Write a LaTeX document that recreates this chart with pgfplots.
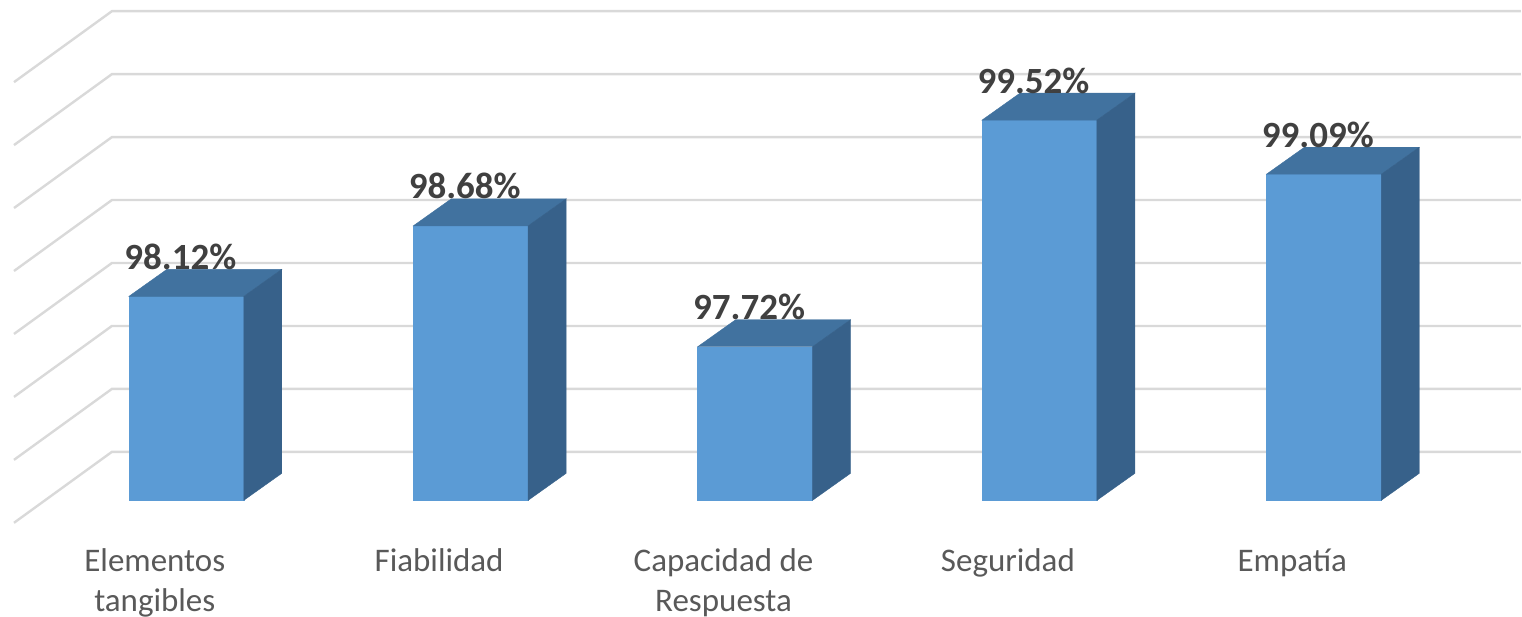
\documentclass[border=0pt]{standalone}
\usepackage{pgfplots}
\pgfplotsset{compat=1.18}
\usepackage{fontspec}
\setmainfont{Carlito}
\definecolor{frontc}{HTML}{5B9BD5}
\definecolor{topc}{HTML}{41729F}
\definecolor{sidec}{HTML}{37618A}
\definecolor{gridc}{HTML}{D9D9D9}
\definecolor{lbl}{HTML}{595959}
\definecolor{dlbl}{HTML}{404040}

% #1 = category position, #2 = value
\newcommand\barthreed[2]{%
  \pgfmathsetmacro\xl{#1-0.2020}%
  \pgfmathsetmacro\xr{#1+0.2020}%
  \pgfmathsetmacro\xrr{#1+0.2020+0.1335}%
  \pgfmathsetmacro\xlr{#1-0.2020+0.1335}%
  \pgfmathsetmacro\vt{#2+0.2143}%
  \pgfmathsetmacro\bt{96.5+0.2143}%
  \addplot[draw=frontc, line width=0.2pt, fill=frontc] coordinates {(\xl,96.5) (\xr,96.5) (\xr,#2) (\xl,#2)} --cycle;
  \addplot[draw=topc, line width=0.2pt, fill=topc] coordinates {(\xl,#2) (\xr,#2) (\xrr,\vt) (\xlr,\vt)} --cycle;
  \addplot[draw=sidec, line width=0.2pt, fill=sidec] coordinates {(\xr,96.5) (\xrr,\bt) (\xrr,\vt) (\xr,#2)} --cycle;
  \node[anchor=base, xshift=-3pt, yshift=13.5pt, text=dlbl, font=\fontsize{18.5}{20}\selectfont\bfseries] at (axis cs:#1,#2) {#2\%};
}

\begin{document}
\begin{tikzpicture}
\begin{axis}[
  scale only axis,
  width=761pt, height=308pt,
  xmin=-0.6553, xmax=4.6926,
  ymin=95.5833, ymax=100.4722,
  clip=false,
  axis line style={draw=none},
  major tick length=0pt,
  ytick=\empty,
  xtick={-0.111,0.889,1.889,2.889,3.889},
  xticklabels={{\strut Elementos\\tangibles},{\strut Fiabilidad},{\strut Capacidad de\\Respuesta},{\strut Seguridad},{\strut Empatía}},
  xticklabel style={anchor=north, inner sep=0pt, yshift=36.5pt, align=center, text=lbl, font=\fontsize{16.5}{20}\selectfont},
]
% bounding box
\path (rel axis cs:0,0) rectangle (rel axis cs:1,1);
% gridlines (back wall + left side wall)
\addplot[gridc, line width=1.2pt, mark=none] coordinates {(-0.6061,96.3214) (-0.2618,96.8849) (4.6926,96.8849)};
\addplot[gridc, line width=1.2pt, mark=none] coordinates {(-0.6061,96.8214) (-0.2618,97.3849) (4.6926,97.3849)};
\addplot[gridc, line width=1.2pt, mark=none] coordinates {(-0.6061,97.3214) (-0.2618,97.8849) (4.6926,97.8849)};
\addplot[gridc, line width=1.2pt, mark=none] coordinates {(-0.6061,97.8214) (-0.2618,98.3849) (4.6926,98.3849)};
\addplot[gridc, line width=1.2pt, mark=none] coordinates {(-0.6061,98.3214) (-0.2618,98.8849) (4.6926,98.8849)};
\addplot[gridc, line width=1.2pt, mark=none] coordinates {(-0.6061,98.8214) (-0.2618,99.3849) (4.6926,99.3849)};
\addplot[gridc, line width=1.2pt, mark=none] coordinates {(-0.6061,99.3214) (-0.2618,99.8849) (4.6926,99.8849)};
\addplot[gridc, line width=1.2pt, mark=none] coordinates {(-0.6061,99.8214) (-0.2618,100.3849) (4.6926,100.3849)};
% bars
\barthreed{0}{98.12}
\barthreed{1}{98.68}
\barthreed{2}{97.72}
\barthreed{3}{99.52}
\barthreed{4}{99.09}
\end{axis}
\end{tikzpicture}
\end{document}
